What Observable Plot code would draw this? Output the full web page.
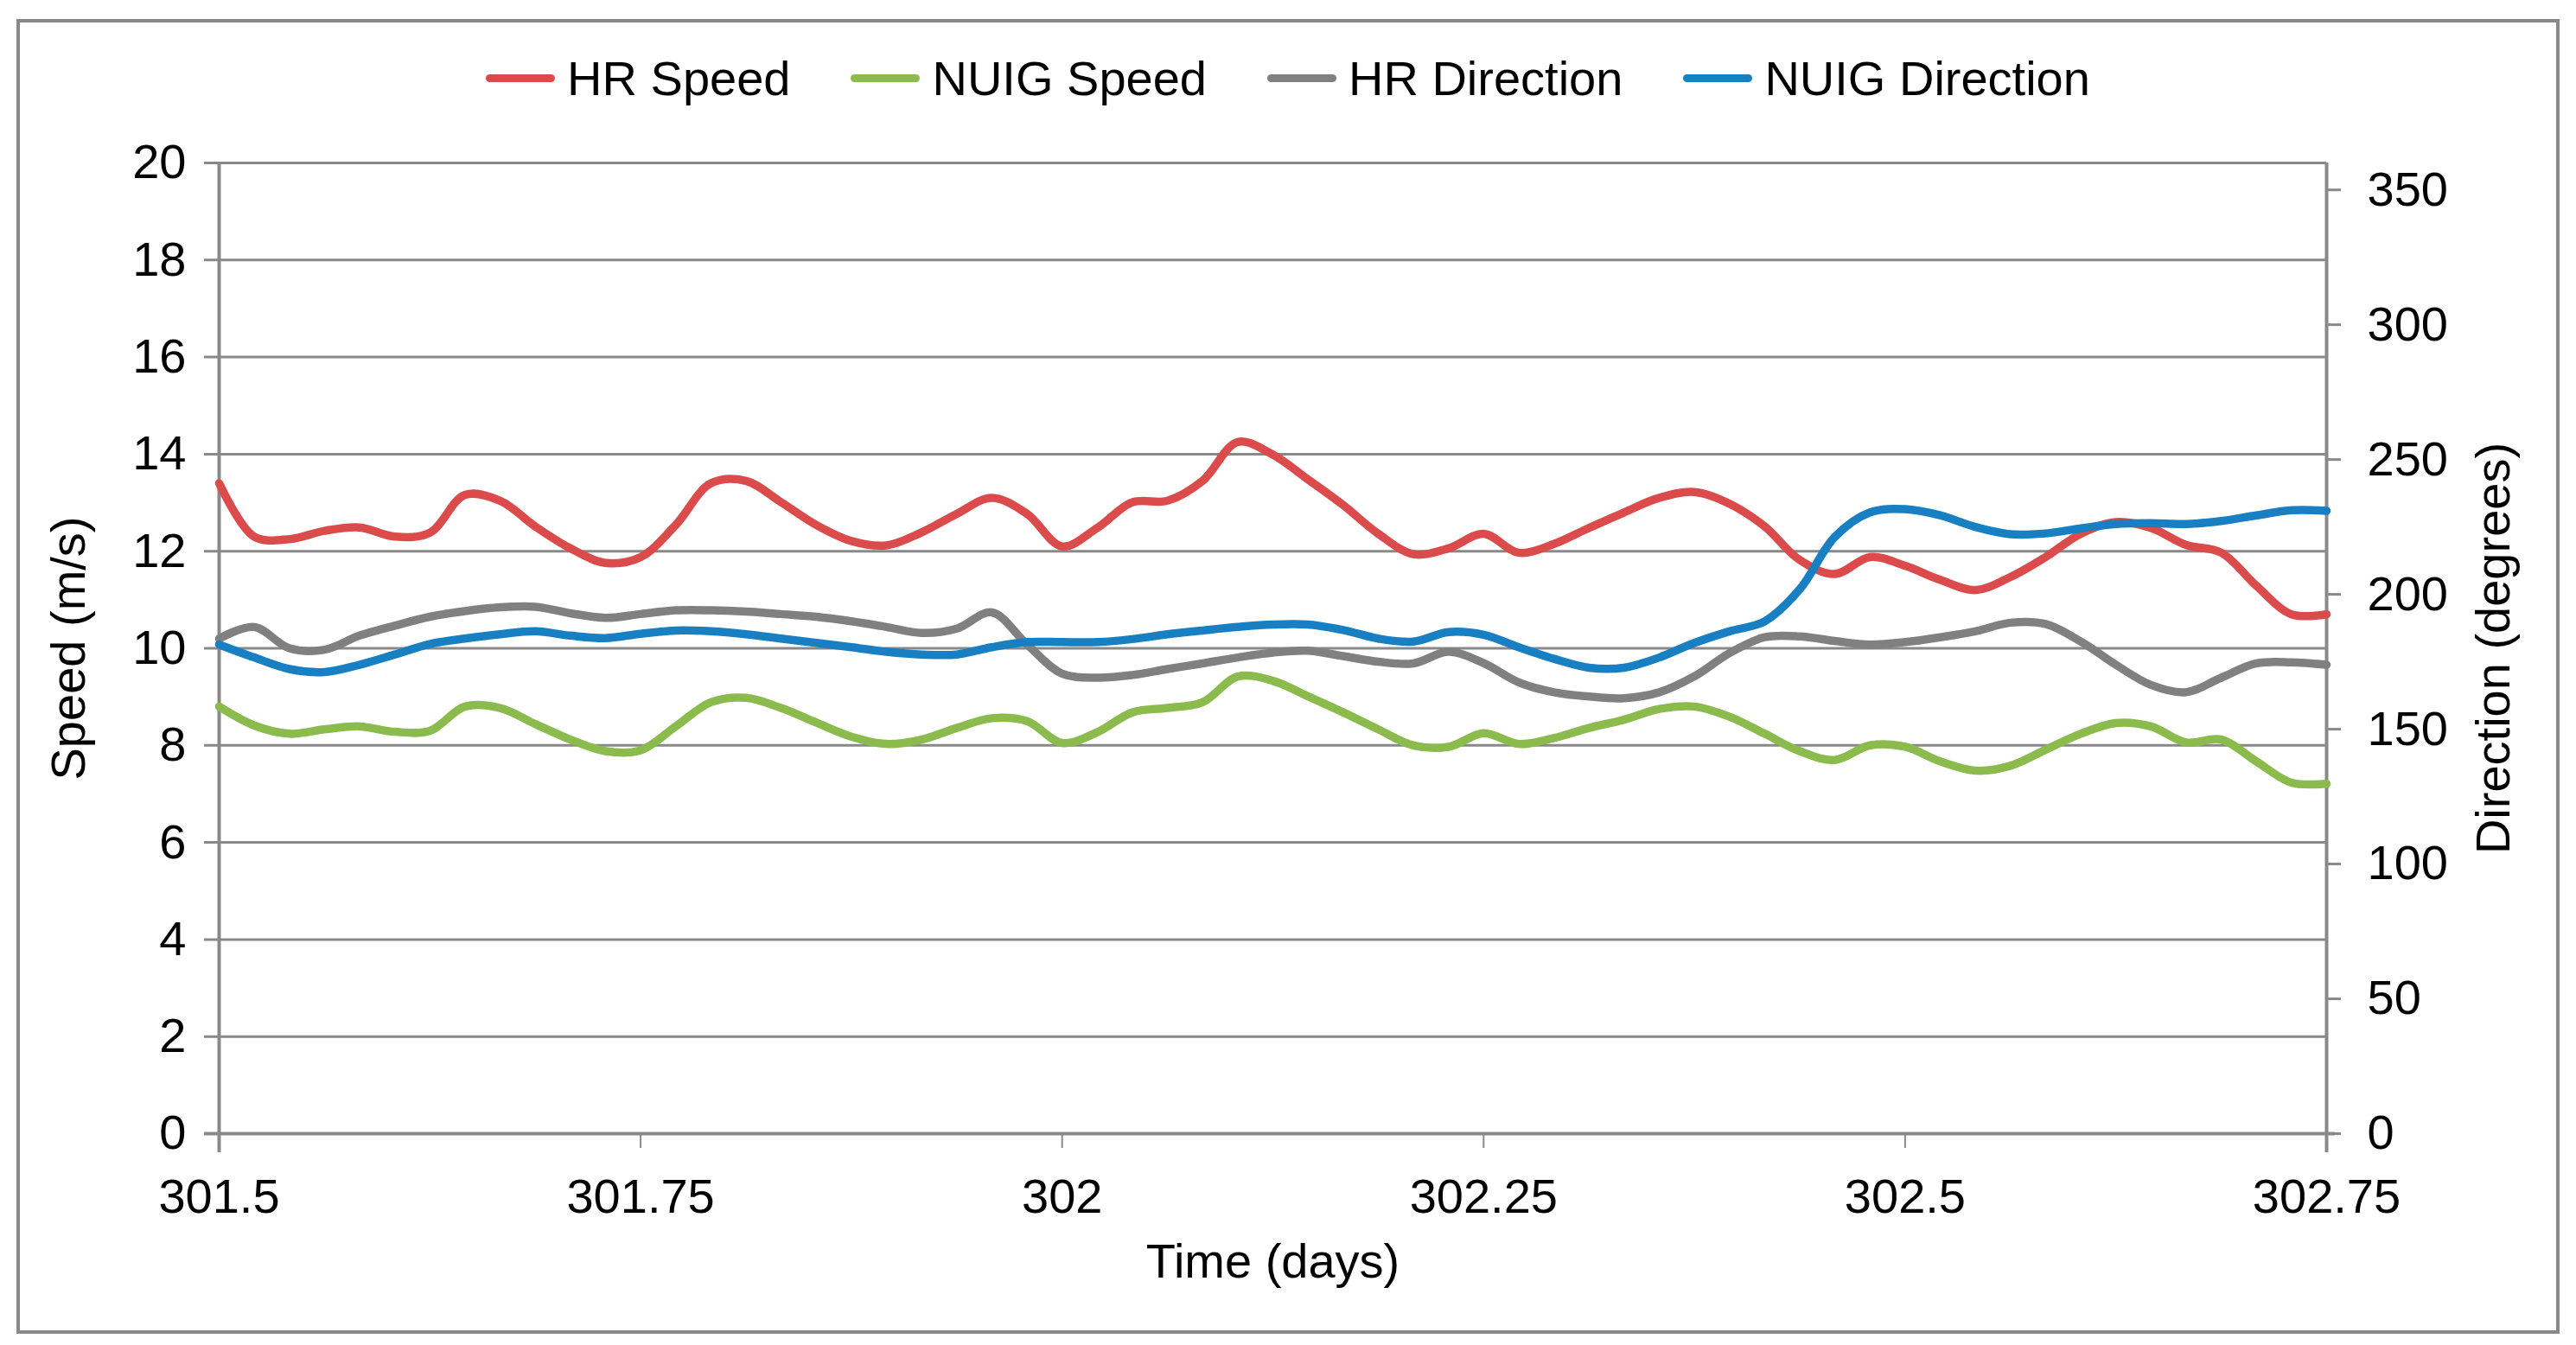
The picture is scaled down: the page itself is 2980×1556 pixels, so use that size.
<!DOCTYPE html>
<html>
<head>
<meta charset="utf-8">
<script src="https://cdn.jsdelivr.net/npm/d3@7"></script>
<script src="https://cdn.jsdelivr.net/npm/@observablehq/plot@0.6"></script>
<style>
  html, body { margin: 0; padding: 0; background: #ffffff; }
  body { width: 2980px; height: 1556px; position: relative; overflow: hidden;
         font-family: "Liberation Sans", Arial, sans-serif; }
  #frame { position: absolute; left: 19px; top: 22px; width: 2942px; height: 1521px;
           border: 4px solid #898989; box-sizing: border-box; }
  #legend { position: absolute; left: 19px; width: 2942px; top: 58px; height: 64px;
            display: flex; justify-content: center; align-items: center;
            font-size: 56px; color: #000; }
  .item { display: flex; align-items: center; margin: 0 35px; white-space: nowrap; }
  .sw { width: 80px; height: 9px; border-radius: 5px; margin-right: 14px; }
  #chart { position: absolute; left: 0; top: 130px; }
</style>
</head>
<body>
<div id="frame"></div>
<div id="legend"></div>
<div id="chart"></div>
<script>
// ---- data ----
const seriesNames = ["HR Speed", "NUIG Speed", "HR Direction", "NUIG Direction"];
const seriesColors = ["#DB4B4B", "#8BBB4D", "#808080", "#187FC2"];

const time = [
  301.5, 301.5208, 301.5417, 301.5625, 301.5833, 301.6042, 301.625, 301.6458, 301.6667, 301.6875,
  301.7083, 301.7292, 301.75, 301.7708, 301.7917, 301.8125, 301.8333, 301.8542, 301.875, 301.8958,
  301.9167, 301.9375, 301.9583, 301.9792, 302, 302.0208, 302.0417, 302.0625, 302.0833, 302.1042,
  302.125, 302.1458, 302.1667, 302.1875, 302.2083, 302.2292, 302.25, 302.2708, 302.2917, 302.3125,
  302.3333, 302.3542, 302.375, 302.3958, 302.4167, 302.4375, 302.4583, 302.4792, 302.5, 302.5208,
  302.5417, 302.5625, 302.5833, 302.6042, 302.625, 302.6458, 302.6667, 302.6875, 302.7083, 302.7292,
  302.75
];

const hrSpeed = [
  13.40, 12.30, 12.25, 12.42, 12.49, 12.30, 12.38, 13.16, 13.04, 12.51,
  12.06, 11.76, 11.88, 12.54, 13.40, 13.45, 13.01, 12.54, 12.21, 12.12,
  12.39, 12.77, 13.10, 12.77, 12.10, 12.48, 13.01, 13.04, 13.45, 14.25,
  13.99, 13.48, 12.95, 12.36, 11.94, 12.06, 12.36, 11.97, 12.15, 12.48,
  12.80, 13.10, 13.22, 12.98, 12.51, 11.82, 11.53, 11.88, 11.70, 11.41,
  11.20, 11.47, 11.88, 12.36, 12.60, 12.48, 12.13, 11.97, 11.29, 10.70,
  10.70
];

const nuigSpeed = [
  8.80, 8.41, 8.24, 8.33, 8.39, 8.28, 8.30, 8.80, 8.77, 8.44,
  8.12, 7.88, 7.90, 8.39, 8.89, 8.98, 8.77, 8.47, 8.18, 8.03,
  8.12, 8.36, 8.56, 8.50, 8.05, 8.27, 8.68, 8.77, 8.89, 9.42,
  9.33, 9.01, 8.68, 8.33, 8.00, 7.97, 8.25, 8.03, 8.15, 8.36,
  8.53, 8.75, 8.80, 8.59, 8.24, 7.88, 7.70, 8.00, 7.97, 7.67,
  7.48, 7.58, 7.91, 8.24, 8.46, 8.39, 8.06, 8.12, 7.67, 7.23,
  7.21
];

const hrDirection = [
  183.6, 187.9, 180.0, 179.5, 184.7, 188.4, 191.7, 193.8, 195.2, 195.4,
  193.0, 191.3, 192.7, 194.1, 194.1, 193.6, 192.7, 191.7, 190.0, 187.9,
  185.7, 187.3, 193.3, 181.4, 170.6, 169.1, 170.1, 172.3, 174.4, 176.6,
  178.4, 179.1, 177.1, 175.0, 174.4, 178.7, 174.5, 167.4, 163.7, 162.1,
  161.5, 163.7, 169.6, 178.2, 184.1, 184.4, 182.7, 181.4, 182.3, 184.1,
  186.3, 189.5, 189.0, 182.5, 173.9, 166.4, 163.7, 169.1, 174.4, 174.8,
  173.9
];

const nuigDirection = [
  181.4, 176.6, 172.3, 171.2, 173.9, 177.7, 181.6, 183.6, 185.2, 186.3,
  184.7, 183.8, 185.4, 186.6, 186.3, 185.2, 183.6, 182.0, 180.4, 178.7,
  177.7, 177.7, 180.4, 182.3, 182.3, 182.3, 183.4, 185.2, 186.6, 187.9,
  188.8, 188.8, 186.8, 183.6, 182.5, 186.0, 185.0, 180.4, 176.1, 172.8,
  172.8, 176.6, 182.0, 186.3, 190.0, 201.9, 221.3, 230.4, 231.6, 229.3,
  225.0, 222.3, 222.6, 224.5, 226.1, 226.4, 226.1, 227.2, 229.3, 231.2,
  231.0
];

const speedTicks = [0, 2, 4, 6, 8, 10, 12, 14, 16, 18, 20];
const directionTicks = [0, 50, 100, 150, 200, 250, 300, 350];
const timeTicks = [301.5, 301.75, 302, 302.25, 302.5, 302.75];

const speedMax = 20;
const directionMax = 360;
const toSpeedUnits = d => d * speedMax / directionMax;

// ---- build table ----
const seriesList = [
  { name: seriesNames[0], values: hrSpeed, secondary: false },
  { name: seriesNames[1], values: nuigSpeed, secondary: false },
  { name: seriesNames[2], values: hrDirection, secondary: true },
  { name: seriesNames[3], values: nuigDirection, secondary: true }
];
const rows = seriesList.flatMap(s => s.values.map((v, i) => ({
  name: s.name, t: time[i], y: s.secondary ? toSpeedUnits(v) : v
})));

// ---- legend ----
const legend = document.getElementById("legend");
seriesNames.forEach((n, i) => {
  const item = document.createElement("div");
  item.className = "item";
  const sw = document.createElement("div");
  sw.className = "sw";
  sw.style.background = seriesColors[i];
  const label = document.createElement("span");
  label.textContent = n;
  item.appendChild(sw);
  item.appendChild(label);
  legend.appendChild(item);
});

// ---- chart ----
const axisGray = "#898989";
const fontSize = 56;
const chart = Plot.plot({
  width: 2980,
  height: 1400,
  marginLeft: 253,
  marginRight: 289,
  marginTop: 58,
  marginBottom: 219,
  style: { fontFamily: '"Liberation Sans", Arial, sans-serif', fontSize: fontSize + "px",
           background: "transparent", overflow: "visible", color: "#000" },
  x: { domain: [301.5, 302.75] },
  y: { domain: [0, speedMax] },
  color: { domain: seriesNames, range: seriesColors },
  marks: [
    Plot.ruleY(speedTicks.filter(d => d > 0), { stroke: axisGray, strokeWidth: 3, insetLeft: -17 }),
    Plot.axisY({ anchor: "left", ticks: speedTicks, tickFormat: d => String(d),
                 tickSize: 0, tickPadding: 38, fontSize, fill: "#000", label: null }),
    Plot.axisY({ anchor: "right", ticks: directionTicks.map(toSpeedUnits),
                 tickFormat: d => String(Math.round(d * directionMax / speedMax)),
                 tickSize: 16, tickPadding: 31, stroke: axisGray, strokeWidth: 3,
                 fontSize, fill: "#000", label: null }),
    Plot.axisX({ ticks: timeTicks, tickFormat: d => String(d), tickSize: 17, tickPadding: 35,
                 stroke: axisGray, strokeWidth: 2, fontSize, fill: "#000", label: null }),
    Plot.ruleX([301.5, 302.75], { stroke: axisGray, strokeWidth: 4, insetBottom: -22 }),
    Plot.ruleY([0], { stroke: axisGray, strokeWidth: 4, insetLeft: -17, insetRight: -10 }),
    Plot.lineY(rows, { x: "t", y: "y", z: "name", stroke: "name", curve: "catmull-rom",
                       strokeWidth: 9.5, strokeLinejoin: "round", strokeLinecap: "round" }),
    Plot.text(["Speed (m/s)"], { text: d => d, frameAnchor: "left", dx: -173, rotate: -90,
                                 textAnchor: "middle", lineAnchor: "middle", fontSize, fill: "#000" }),
    Plot.text(["Direction (degrees)"], { text: d => d, frameAnchor: "right", dx: 194, rotate: -90,
                                         textAnchor: "middle", lineAnchor: "middle", fontSize, fill: "#000" }),
    Plot.text(["Time (days)"], { text: d => d, frameAnchor: "bottom", dy: 149,
                                 textAnchor: "middle", lineAnchor: "middle", fontSize, fill: "#000" })
  ]
});
document.getElementById("chart").appendChild(chart);
</script>
</body>
</html>
